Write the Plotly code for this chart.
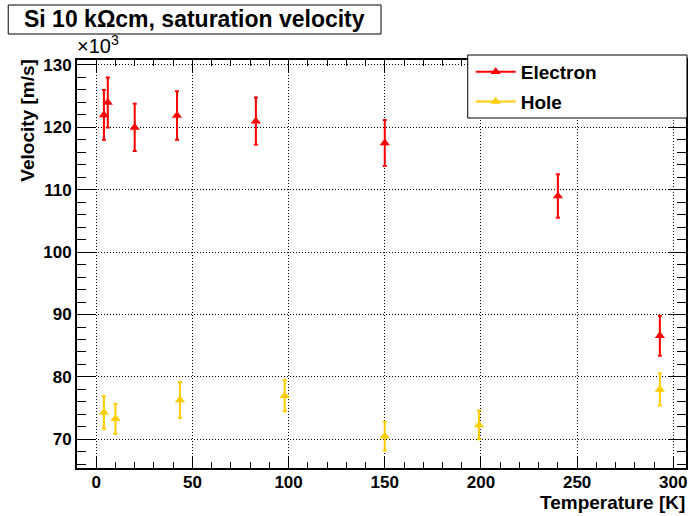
import plotly.graph_objects as go

# ---------------- data ----------------
temp_electron = [4, 6, 20, 42, 83, 150, 240, 293]
vel_electron = [122.0, 124.0, 120.0, 121.9, 121.0, 117.5, 109.0, 86.6]
err_electron = [4.0, 4.0, 3.8, 3.9, 3.8, 3.7, 3.5, 3.2]

temp_hole = [4, 10, 43.5, 98, 150, 199, 293]
vel_hole = [74.3, 73.3, 76.3, 77.0, 70.5, 72.3, 78.0]
err_hole = [2.6, 2.4, 2.9, 2.5, 2.3, 2.3, 2.6]

x_ticks = [0, 50, 100, 150, 200, 250, 300]
y_ticks = [70, 80, 90, 100, 110, 120, 130]

title_text = "Si 10 kΩcm, saturation velocity"
x_title = "Temperature [K]"
y_title = "Velocity [m/s]"
names = ["Electron", "Hole"]
colors = ["#ff0000", "#ffcc00"]

# ---------------- layout geometry (pixels) ----------------
W, H = 691, 516
L, R, T, B = 77, 688, 60, 468


def xp(px):
    return (px - L) / (R - L)


def yp(py):
    return (B - py) / (B - T)


FONT = "Liberation Sans, Arial, Helvetica, sans-serif"

fig = go.Figure()

for name, col, xs, ys, es in [
    (names[0], colors[0], temp_electron, vel_electron, err_electron),
    (names[1], colors[1], temp_hole, vel_hole, err_hole),
]:
    fig.add_trace(go.Scatter(
        x=xs, y=ys, mode="markers", showlegend=False,
        marker=dict(symbol="triangle-up", size=9, color=col),
        error_y=dict(type="data", array=es, visible=True, color=col,
                     thickness=2, width=2),
    ))

# legend entries (line + marker, as in the original)
for i, (name, col) in enumerate(zip(names, colors)):
    fig.add_trace(go.Scatter(
        x=[None], y=[None], mode="lines+markers", name=name,
        legendgroup=name,
        line=dict(color=col, width=2),
        marker=dict(symbol="triangle-up", size=9, color=col),
    ))

axis_common = dict(
    showline=True, linecolor="black", linewidth=2, mirror="allticks",
    ticks="inside", tickcolor="black", tickwidth=1,
    showgrid=True, gridcolor="black", gridwidth=1, griddash="1px,2px",
    zeroline=False,
    tickfont=dict(family=FONT, size=17, color="black", weight="bold"),
)

fig.update_xaxes(
    range=[-10, 306.6], tickvals=x_ticks, ticklen=12, ticklabelstandoff=-2,
    minor=dict(dtick=10, ticklen=6, ticks="inside", tickcolor="black",
               showgrid=False),
    **axis_common,
)
fig.update_yaxes(
    range=[65.4, 130.8], tickvals=y_ticks, ticklen=18,
    minor=dict(dtick=2, ticklen=9, ticks="inside", tickcolor="black",
               showgrid=False),
    **axis_common,
)

shapes = [
    # title box
    dict(type="rect", xref="paper", yref="paper",
         x0=xp(8), x1=xp(382), y0=yp(34), y1=yp(5),
         line=dict(color="black", width=1), fillcolor="white", layer="above"),
    # legend box
    dict(type="rect", xref="paper", yref="paper",
         x0=xp(469), x1=xp(689), y0=yp(118), y1=yp(55),
         line=dict(color="black", width=1), fillcolor="white", layer="above"),
]

annotations = [
    dict(text=title_text, xref="paper", yref="paper", x=xp(22), y=yp(19.5),
         xanchor="left", yanchor="middle", showarrow=False,
         font=dict(family=FONT, size=23, color="black", weight="bold")),
    dict(text=x_title, xref="paper", yref="paper", x=xp(689), y=yp(502.5),
         xanchor="right", yanchor="middle", showarrow=False,
         font=dict(family=FONT, size=19, color="black", weight="bold")),
    dict(text=y_title, xref="paper", yref="paper", x=xp(27), y=yp(57),
         xanchor="center", yanchor="top", showarrow=False, textangle=-90,
         font=dict(family=FONT, size=19, color="black", weight="bold")),
    dict(text="×10<sup>3</sup>", xref="paper", yref="paper", x=xp(75),
         y=yp(59), xanchor="left", yanchor="bottom", showarrow=False,
         font=dict(family=FONT, size=20, color="black")),
]

fig.update_layout(
    width=W, height=H,
    margin=dict(l=L, r=W - R, t=T, b=H - B, pad=0),
    paper_bgcolor="white", plot_bgcolor="white",
    shapes=shapes, annotations=annotations,
    showlegend=True,
    legend=dict(
        x=xp(472), y=yp(53), xanchor="left", yanchor="top",
        bgcolor="rgba(0,0,0,0)", borderwidth=0,
        itemwidth=40, tracegroupgap=2,
        font=dict(family=FONT, size=19, color="black", weight="bold"),
    ),
)

fig.write_html("out.html")
